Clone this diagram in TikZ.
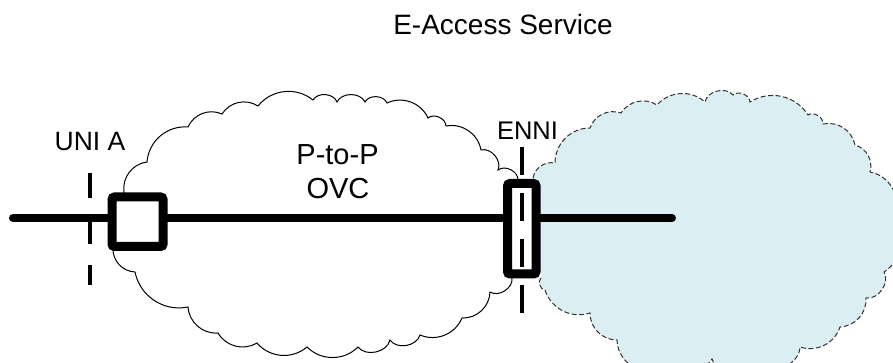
\documentclass[tikz,border=0pt]{standalone}
\usepackage{fontspec}
\setmainfont{Liberation Sans}
\definecolor{carrierblue}{HTML}{DAEEF3}
\definecolor{carrieredge}{HTML}{303030}
\begin{document}
\begin{tikzpicture}[x=1pt,y=1pt,
  scallop/.style={out=45,in=135,relative},
  scallopsm/.style={out=65,in=115,relative},
  ovccloud/.style={draw=black,line width=1pt,fill=white},
  carriercloud/.style={draw=carrieredge,line width=1pt,fill=carrierblue,
    dash pattern=on 5pt off 2.5pt},
  trunk/.style={line width=8pt,line cap=round},
  ifacebox/.style={draw=black,fill=white,line width=9pt,rounded corners=2.5pt,
    inner sep=0pt},
  demarc/.style={line width=3.5pt},
  lbl/.style={inner sep=0pt,anchor=base,font=\fontsize{#1}{#1}\selectfont},
]
\useasboundingbox (0,0) rectangle (893,363);
\clip (0,0) rectangle (893,363);

% operator cloud carrying the OVC
\draw[ovccloud] (124,171) to[scallop] (147,201) to[scallop] (188,236)
  to[scallop] (222,249) to[scallop] (258,257) to[scallop] (313,263)
  to[scallopsm] (337,261) to[scallopsm] (365,261) to[scallopsm] (387,260)
  to[scallop] (428,245) to[scallopsm] (446,237) to[scallop] (481,213)
  to[scallopsm] (498,193) to[scallopsm] (518,183) -- (512,85)
  to[scallopsm] (490,71) to[scallop] (462,45) to[scallop] (420,28)
  to[scallopsm] (390,23) to[scallopsm] (358,16) to[scallop] (307,16)
  to[scallop] (257,20) to[scallop] (218,30) to[scallop] (188,56)
  to[scallop] (135,91) to[scallop] (113,115) -- cycle;

% access provider cloud (open outline, filled)
\draw[carriercloud] (533,185) to[scallop] (555,200) to[scallop] (590,235)
  to[scallop] (621,250) to[scallop] (657,258) to[scallop] (705,261)
  to[scallopsm] (733,268) to[scallopsm] (750,261) to[scallop] (808,248)
  to[scallopsm] (823,239) to[scallop] (855,218) to[scallop] (870,191)
  to[scallop] (896,153) to[scallop] (884,91) to[scallopsm] (866,65)
  to[scallop] (840,36) to[scallop] (800,16) to[scallopsm] (760,-2)
  to[scallopsm] (712,4) to[scallop] (650,-8) to[scallop] (617,23)
  to[scallop] (590,50) to[scallop] (545,73) to[scallopsm] (541,85);

% end-to-end trunk
\coordinate (lineL) at (13,145);
\coordinate (lineR) at (672,145);
\draw[trunk] (lineL) -- (lineR);

% UNI demarcation
\coordinate (uniTop) at (90,190);
\coordinate (uniBot) at (90,78);
\draw[demarc,dash pattern=on 25pt off 21pt] (uniTop) -- (uniBot);

% interface boxes
\node[ifacebox,minimum width=51pt,minimum height=49.5pt] (unibox) at (137.5,141.25) {};
\node[ifacebox,minimum width=28.5pt,minimum height=90.5pt] (ennibox) at (521.75,134.25) {};

% ENNI demarcation, over the box
\coordinate (enniTop) at (522,216);
\coordinate (enniBot) at (522,50);
\draw[demarc,dash pattern=on 28pt off 18pt] (enniTop) -- (enniBot);

% labels
\node[lbl=28] (title) at (503,328) {E-Access Service};
\node[lbl=26.5] (unilbl) at (90,212) {UNI A};
\node[lbl=25.5] (ennilbl) at (527.5,223) {ENNI};
\node[lbl=29] (ovc1) at (337.5,198) {P-to-P};
\node[lbl=29] (ovc2) at (338,164) {OVC};
\end{tikzpicture}
\end{document}
